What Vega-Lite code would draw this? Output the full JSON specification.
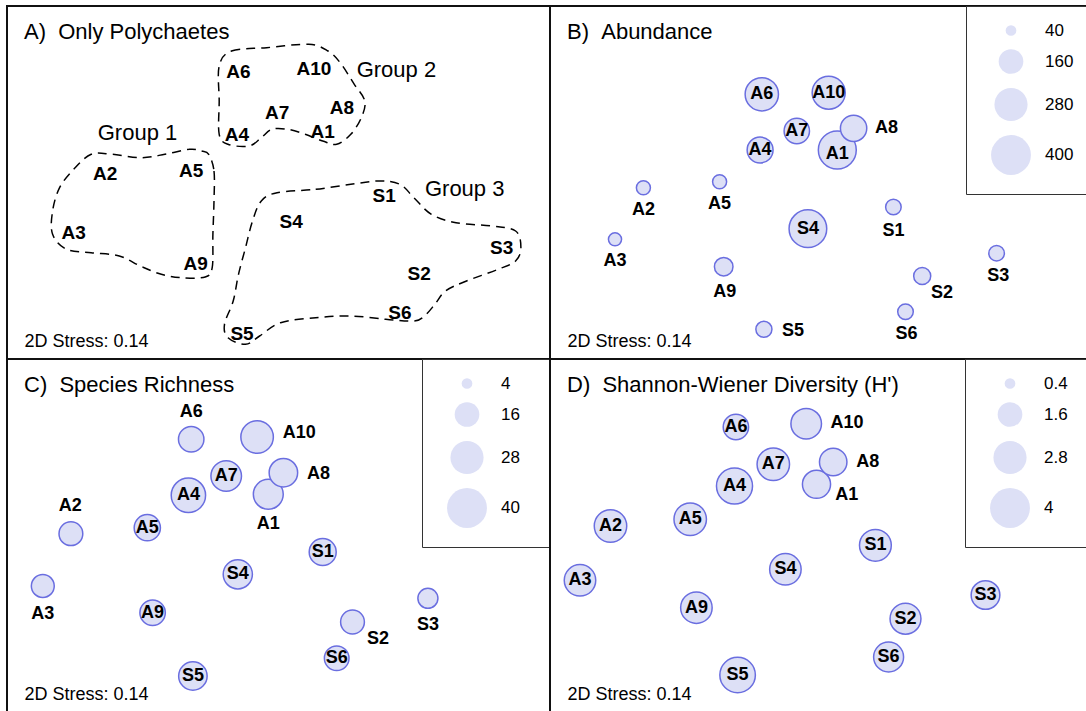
{
  "$schema": "https://vega.github.io/schema/vega-lite/v6.json",
  "padding": {"left": 6, "top": 4, "right": 0, "bottom": 0},
  "spacing": 0,
  "bounds": "flush",
  "columns": 2,
  "resolve": {"scale": {"x": "independent", "y": "independent", "size": "independent"}, "legend": {"size": "independent"}},
  "datasets": {
    "hulls": [
      {"g": 2, "o": 1, "x": -0.593, "y": 1.165}, {"g": 2, "o": 2, "x": -0.47, "y": 1.315}, {"g": 2, "o": 3, "x": -0.119, "y": 1.348}, {"g": 2, "o": 4, "x": 0.302, "y": 1.382}, {"g": 2, "o": 5, "x": 0.495, "y": 1.315}, {"g": 2, "o": 6, "x": 0.617, "y": 1.198}, {"g": 2, "o": 7, "x": 0.758, "y": 0.982}, {"g": 2, "o": 8, "x": 0.863, "y": 0.815}, {"g": 2, "o": 9, "x": 0.828, "y": 0.648}, {"g": 2, "o": 10, "x": 0.723, "y": 0.482}, {"g": 2, "o": 11, "x": 0.582, "y": 0.382}, {"g": 2, "o": 12, "x": 0.442, "y": 0.415}, {"g": 2, "o": 13, "x": 0.267, "y": 0.482}, {"g": 2, "o": 14, "x": 0.091, "y": 0.532}, {"g": 2, "o": 15, "x": -0.067, "y": 0.532}, {"g": 2, "o": 16, "x": -0.172, "y": 0.448}, {"g": 2, "o": 17, "x": -0.295, "y": 0.365}, {"g": 2, "o": 18, "x": -0.505, "y": 0.382}, {"g": 2, "o": 19, "x": -0.593, "y": 0.482}, {"g": 2, "o": 20, "x": -0.593, "y": 0.815},
      {"g": 1, "o": 1, "x": -0.698, "y": 0.282}, {"g": 1, "o": 2, "x": -0.645, "y": 0.115}, {"g": 1, "o": 3, "x": -0.645, "y": -0.185}, {"g": 1, "o": 4, "x": -0.656, "y": -0.518}, {"g": 1, "o": 5, "x": -0.663, "y": -0.852}, {"g": 1, "o": 6, "x": -0.733, "y": -0.945}, {"g": 1, "o": 7, "x": -0.961, "y": -0.952}, {"g": 1, "o": 8, "x": -1.172, "y": -0.918}, {"g": 1, "o": 9, "x": -1.382, "y": -0.835}, {"g": 1, "o": 10, "x": -1.592, "y": -0.735}, {"g": 1, "o": 11, "x": -1.873, "y": -0.702}, {"g": 1, "o": 12, "x": -2.119, "y": -0.668}, {"g": 1, "o": 13, "x": -2.259, "y": -0.518}, {"g": 1, "o": 14, "x": -2.259, "y": -0.285}, {"g": 1, "o": 15, "x": -2.189, "y": -0.052}, {"g": 1, "o": 16, "x": -2.048, "y": 0.132}, {"g": 1, "o": 17, "x": -1.873, "y": 0.282}, {"g": 1, "o": 18, "x": -1.663, "y": 0.282}, {"g": 1, "o": 19, "x": -1.382, "y": 0.248}, {"g": 1, "o": 20, "x": -1.136, "y": 0.282}, {"g": 1, "o": 21, "x": -0.891, "y": 0.332}, {"g": 1, "o": 22, "x": -0.768, "y": 0.315},
      {"g": 3, "o": 1, "x": -0.014, "y": -0.102}, {"g": 3, "o": 2, "x": 0.372, "y": -0.068}, {"g": 3, "o": 3, "x": 0.723, "y": -0.018}, {"g": 3, "o": 4, "x": 1.003, "y": 0.015}, {"g": 3, "o": 5, "x": 1.214, "y": -0.018}, {"g": 3, "o": 6, "x": 1.354, "y": -0.152}, {"g": 3, "o": 7, "x": 1.529, "y": -0.318}, {"g": 3, "o": 8, "x": 1.775, "y": -0.402}, {"g": 3, "o": 9, "x": 2.125, "y": -0.435}, {"g": 3, "o": 10, "x": 2.371, "y": -0.485}, {"g": 3, "o": 11, "x": 2.424, "y": -0.652}, {"g": 3, "o": 12, "x": 2.371, "y": -0.785}, {"g": 3, "o": 13, "x": 2.196, "y": -0.868}, {"g": 3, "o": 14, "x": 1.88, "y": -0.985}, {"g": 3, "o": 15, "x": 1.67, "y": -1.085}, {"g": 3, "o": 16, "x": 1.564, "y": -1.218}, {"g": 3, "o": 17, "x": 1.459, "y": -1.335}, {"g": 3, "o": 18, "x": 1.354, "y": -1.385}, {"g": 3, "o": 19, "x": 1.073, "y": -1.368}, {"g": 3, "o": 20, "x": 0.723, "y": -1.335}, {"g": 3, "o": 21, "x": 0.372, "y": -1.352}, {"g": 3, "o": 22, "x": 0.021, "y": -1.402}, {"g": 3, "o": 23, "x": -0.189, "y": -1.535}, {"g": 3, "o": 24, "x": -0.33, "y": -1.618}, {"g": 3, "o": 25, "x": -0.505, "y": -1.552}, {"g": 3, "o": 26, "x": -0.54, "y": -1.418}, {"g": 3, "o": 27, "x": -0.453, "y": -1.185}, {"g": 3, "o": 28, "x": -0.4, "y": -0.918}, {"g": 3, "o": 29, "x": -0.33, "y": -0.652}, {"g": 3, "o": 30, "x": -0.26, "y": -0.385}, {"g": 3, "o": 31, "x": -0.172, "y": -0.185}
    ],
    "labA": [
      {"s": "A6", "x": -0.4, "y": 1.108}, {"s": "A10", "x": 0.354, "y": 1.138}, {"s": "A7", "x": -0.014, "y": 0.698}, {"s": "A8", "x": 0.635, "y": 0.742}, {"s": "A4", "x": -0.417, "y": 0.475}, {"s": "A1", "x": 0.442, "y": 0.508}, {"s": "A2", "x": -1.733, "y": 0.082}, {"s": "A5", "x": -0.873, "y": 0.115}, {"s": "A3", "x": -2.048, "y": -0.502}, {"s": "A9", "x": -0.828, "y": -0.818}, {"s": "S1", "x": 1.056, "y": -0.135}, {"s": "S4", "x": 0.126, "y": -0.392}, {"s": "S3", "x": 2.231, "y": -0.652}, {"s": "S2", "x": 1.406, "y": -0.918}, {"s": "S6", "x": 1.214, "y": -1.302}, {"s": "S5", "x": -0.365, "y": -1.518}
    ],
    "grpA": [
      {"t": "Group 1", "x": -1.41, "y": 0.498}, {"t": "Group 2", "x": 1.179, "y": 1.122}, {"t": "Group 3", "x": 1.862, "y": -0.068}
    ],
    "ptsB": [
      {"s": "A6", "x": -0.597, "y": 0.882, "v": 283, "lx": -0.597, "ly": 0.882},
      {"s": "A10", "x": 0.072, "y": 0.898, "v": 279, "lx": 0.072, "ly": 0.898},
      {"s": "A7", "x": -0.247, "y": 0.515, "v": 169, "lx": -0.247, "ly": 0.515},
      {"s": "A4", "x": -0.614, "y": 0.325, "v": 176, "lx": -0.614, "ly": 0.325},
      {"s": "A1", "x": 0.158, "y": 0.325, "v": 363, "lx": 0.158, "ly": 0.288},
      {"s": "A8", "x": 0.321, "y": 0.542, "v": 181, "lx": 0.65, "ly": 0.548},
      {"s": "A2", "x": -1.781, "y": -0.052, "v": 60, "lx": -1.781, "ly": -0.275},
      {"s": "A5", "x": -1.019, "y": 0.008, "v": 60, "lx": -1.019, "ly": -0.218},
      {"s": "S1", "x": 0.719, "y": -0.245, "v": 71, "lx": 0.719, "ly": -0.485},
      {"s": "S4", "x": -0.136, "y": -0.462, "v": 358, "lx": -0.136, "ly": -0.462},
      {"s": "A3", "x": -2.065, "y": -0.568, "v": 54, "lx": -2.065, "ly": -0.785},
      {"s": "S3", "x": 1.751, "y": -0.708, "v": 71, "lx": 1.768, "ly": -0.935},
      {"s": "A9", "x": -0.978, "y": -0.842, "v": 96, "lx": -0.967, "ly": -1.095},
      {"s": "S2", "x": 1.007, "y": -0.935, "v": 83, "lx": 1.204, "ly": -1.108},
      {"s": "S6", "x": 0.84, "y": -1.292, "v": 71, "lx": 0.851, "ly": -1.518},
      {"s": "S5", "x": -0.576, "y": -1.468, "v": 75, "lx": -0.285, "ly": -1.485}
    ],
    "ptsC": [
      {"s": "A6", "x": -0.873, "y": 0.962, "v": 17, "lx": -0.873, "ly": 1.235},
      {"s": "A10", "x": -0.214, "y": 0.985, "v": 27, "lx": 0.207, "ly": 1.022},
      {"s": "A7", "x": -0.523, "y": 0.595, "v": 24, "lx": -0.523, "ly": 0.595},
      {"s": "A4", "x": -0.901, "y": 0.402, "v": 30, "lx": -0.901, "ly": 0.402},
      {"s": "A1", "x": -0.102, "y": 0.412, "v": 23, "lx": -0.102, "ly": 0.112},
      {"s": "A8", "x": 0.049, "y": 0.628, "v": 21, "lx": 0.4, "ly": 0.612},
      {"s": "A2", "x": -2.076, "y": 0.018, "v": 15, "lx": -2.083, "ly": 0.295},
      {"s": "A5", "x": -1.312, "y": 0.078, "v": 18, "lx": -1.312, "ly": 0.078},
      {"s": "S1", "x": 0.442, "y": -0.165, "v": 19, "lx": 0.442, "ly": -0.165},
      {"s": "S4", "x": -0.407, "y": -0.388, "v": 22, "lx": -0.407, "ly": -0.388},
      {"s": "A3", "x": -2.357, "y": -0.505, "v": 14, "lx": -2.357, "ly": -0.788},
      {"s": "S3", "x": 1.494, "y": -0.628, "v": 11, "lx": 1.494, "ly": -0.895},
      {"s": "A9", "x": -1.259, "y": -0.772, "v": 17, "lx": -1.259, "ly": -0.772},
      {"s": "S2", "x": 0.74, "y": -0.865, "v": 15, "lx": 0.996, "ly": -1.038},
      {"s": "S6", "x": 0.582, "y": -1.228, "v": 16, "lx": 0.582, "ly": -1.228},
      {"s": "S5", "x": -0.856, "y": -1.405, "v": 21, "lx": -0.856, "ly": -1.405}
    ],
    "ptsD": [
      {"s": "A6", "x": -0.856, "y": 1.085, "v": 1.69, "lx": -0.856, "ly": 1.085},
      {"s": "A10", "x": -0.153, "y": 1.118, "v": 2.4, "lx": 0.255, "ly": 1.128},
      {"s": "A7", "x": -0.482, "y": 0.712, "v": 2.69, "lx": -0.482, "ly": 0.712},
      {"s": "A4", "x": -0.87, "y": 0.495, "v": 3.29, "lx": -0.87, "ly": 0.495},
      {"s": "A1", "x": -0.05, "y": 0.512, "v": 2.05, "lx": 0.252, "ly": 0.402},
      {"s": "A8", "x": 0.117, "y": 0.735, "v": 1.96, "lx": 0.463, "ly": 0.735},
      {"s": "A2", "x": -2.11, "y": 0.095, "v": 2.69, "lx": -2.11, "ly": 0.095},
      {"s": "A5", "x": -1.313, "y": 0.162, "v": 2.69, "lx": -1.313, "ly": 0.162},
      {"s": "S1", "x": 0.539, "y": -0.098, "v": 2.59, "lx": 0.539, "ly": -0.098},
      {"s": "S4", "x": -0.361, "y": -0.338, "v": 2.54, "lx": -0.361, "ly": -0.338},
      {"s": "A3", "x": -2.415, "y": -0.448, "v": 2.54, "lx": -2.415, "ly": -0.448},
      {"s": "S3", "x": 1.64, "y": -0.595, "v": 2.13, "lx": 1.64, "ly": -0.595},
      {"s": "A9", "x": -1.251, "y": -0.722, "v": 2.54, "lx": -1.251, "ly": -0.722},
      {"s": "S2", "x": 0.84, "y": -0.832, "v": 2.45, "lx": 0.84, "ly": -0.832},
      {"s": "S6", "x": 0.671, "y": -1.215, "v": 2.31, "lx": 0.671, "ly": -1.215},
      {"s": "S5", "x": -0.839, "y": -1.395, "v": 3.2, "lx": -0.839, "ly": -1.395}
    ]
  },
  "concat": [
    {
      "width": 543, "height": 353,
      "title": {"text": "A)\u00a0\u00a0Only Polychaetes"},
      "layer": [
        {
          "data": {"name": "hulls"},
          "mark": {"type": "line", "interpolate": "cardinal-closed", "stroke": "#000", "strokeWidth": 1.5, "strokeDash": [9, 6]},
          "encoding": {
            "x": {"field": "x", "type": "quantitative", "scale": {"domain": [-2.715, 2.715], "nice": false, "zero": false}, "title": "2D Stress: 0.14"},
            "y": {"field": "y", "type": "quantitative", "scale": {"domain": [-1.765, 1.765], "nice": false, "zero": false}, "axis": null},
            "detail": {"field": "g", "type": "nominal"},
            "order": {"field": "o", "type": "quantitative"}
          }
        },
        {
          "data": {"name": "labA"},
          "mark": {"type": "text", "fontWeight": "bold", "fontSize": 19},
          "encoding": {
            "x": {"field": "x", "type": "quantitative", "title": "2D Stress: 0.14"},
            "y": {"field": "y", "type": "quantitative", "axis": null},
            "text": {"field": "s"}
          }
        },
        {
          "data": {"name": "grpA"},
          "mark": {"type": "text", "fontWeight": "normal", "fontSize": 22},
          "encoding": {
            "x": {"field": "x", "type": "quantitative", "title": "2D Stress: 0.14"},
            "y": {"field": "y", "type": "quantitative", "axis": null},
            "text": {"field": "t"}
          }
        }
      ]
    },
    {
      "width": 543, "height": 353,
      "title": {"text": "B)\u00a0\u00a0Abundance"},
      "data": {"name": "ptsB"},
      "layer": [
        {
          "mark": {"type": "point", "shape": "circle", "filled": false},
          "encoding": {
            "x": {"field": "x", "type": "quantitative", "scale": {"domain": [-2.715, 2.715], "nice": false, "zero": false}, "title": "2D Stress: 0.14"},
            "y": {"field": "y", "type": "quantitative", "scale": {"domain": [-1.765, 1.765], "nice": false, "zero": false}, "axis": null},
            "fill": {"value": "#dde0f6"},
            "stroke": {"value": "#6a6ee0"},
            "strokeWidth": {"value": 1.5},
            "opacity": {"value": 1},
            "size": {"field": "v", "type": "quantitative", "scale": {"domain": [40, 400], "range": [115, 1590], "zero": false}, "legend": {"values": [40, 160, 280, 400], "title": ".", "titlePadding": 1, "labelExpr": "datum.value + ''", "encode": {"symbols": {"fill": {"value": "#dde0f6"}, "stroke": {"value": "#6a6ee0"}, "strokeWidth": {"value": 1.5}, "opacity": {"value": 1}}}}}
          }
        },
        {
          "mark": {"type": "text", "fontWeight": "bold", "fontSize": 18},
          "encoding": {
            "x": {"field": "lx", "type": "quantitative", "title": "2D Stress: 0.14"},
            "y": {"field": "ly", "type": "quantitative", "axis": null},
            "text": {"field": "s"}
          }
        }
      ]
    },
    {
      "width": 543, "height": 353,
      "title": {"text": "C)\u00a0\u00a0Species Richness"},
      "data": {"name": "ptsC"},
      "layer": [
        {
          "mark": {"type": "point", "shape": "circle", "filled": false},
          "encoding": {
            "x": {"field": "x", "type": "quantitative", "scale": {"domain": [-2.715, 2.715], "nice": false, "zero": false}, "title": "2D Stress: 0.14"},
            "y": {"field": "y", "type": "quantitative", "scale": {"domain": [-1.765, 1.765], "nice": false, "zero": false}, "axis": null},
            "fill": {"value": "#dde0f6"},
            "stroke": {"value": "#6a6ee0"},
            "strokeWidth": {"value": 1.5},
            "opacity": {"value": 1},
            "size": {"field": "v", "type": "quantitative", "scale": {"domain": [4, 40], "range": [115, 1590], "zero": false}, "legend": {"values": [4, 16, 28, 40], "title": ".", "titlePadding": 11, "labelExpr": "datum.value + ''", "encode": {"symbols": {"fill": {"value": "#dde0f6"}, "stroke": {"value": "#6a6ee0"}, "strokeWidth": {"value": 1.5}, "opacity": {"value": 1}}}}}
          }
        },
        {
          "mark": {"type": "text", "fontWeight": "bold", "fontSize": 18},
          "encoding": {
            "x": {"field": "lx", "type": "quantitative", "title": "2D Stress: 0.14"},
            "y": {"field": "ly", "type": "quantitative", "axis": null},
            "text": {"field": "s"}
          }
        }
      ]
    },
    {
      "width": 543, "height": 353,
      "title": {"text": "D)\u00a0\u00a0Shannon-Wiener Diversity (H')"},
      "data": {"name": "ptsD"},
      "layer": [
        {
          "mark": {"type": "point", "shape": "circle", "filled": false},
          "encoding": {
            "x": {"field": "x", "type": "quantitative", "scale": {"domain": [-2.715, 2.715], "nice": false, "zero": false}, "title": "2D Stress: 0.14"},
            "y": {"field": "y", "type": "quantitative", "scale": {"domain": [-1.765, 1.765], "nice": false, "zero": false}, "axis": null},
            "fill": {"value": "#dde0f6"},
            "stroke": {"value": "#6a6ee0"},
            "strokeWidth": {"value": 1.5},
            "opacity": {"value": 1},
            "size": {"field": "v", "type": "quantitative", "scale": {"domain": [0.4, 4], "range": [115, 1590], "zero": false}, "legend": {"values": [0.4, 1.6, 2.8, 4], "title": ".", "titlePadding": 6, "labelExpr": "datum.value + ''", "encode": {"symbols": {"fill": {"value": "#dde0f6"}, "stroke": {"value": "#6a6ee0"}, "strokeWidth": {"value": 1.5}, "opacity": {"value": 1}}}}}
          }
        },
        {
          "mark": {"type": "text", "fontWeight": "bold", "fontSize": 18},
          "encoding": {
            "x": {"field": "lx", "type": "quantitative", "title": "2D Stress: 0.14"},
            "y": {"field": "ly", "type": "quantitative", "axis": null},
            "text": {"field": "s"}
          }
        }
      ]
    }
  ],
  "config": {
    "font": "Liberation Sans",
    "view": {"stroke": "#111", "strokeWidth": 2},
    "text": {"font": "Liberation Sans", "color": "#000", "align": "center", "baseline": "middle"},
    "title": {"anchor": "start", "frame": "group", "fontSize": 22, "fontWeight": "normal", "font": "Liberation Sans", "color": "#000", "offset": -38, "dx": 17, "baseline": "alphabetic"},
    "axisX": {"orient": "bottom", "domain": false, "ticks": false, "labels": false, "grid": false, "titleFontSize": 18, "titleFontWeight": "normal", "titleFont": "Liberation Sans", "titleColor": "#000", "titleAnchor": "start", "titleAlign": "left", "titleBaseline": "alphabetic", "titleX": 17, "titleY": -13},
    "legend": {"orient": "top-right", "offset": 0, "padding": 16, "strokeColor": "#333", "fillColor": "#fff", "labelFontSize": 17, "labelFont": "Liberation Sans", "labelColor": "#000", "labelOffset": 13, "symbolOffset": 8, "rowPadding": 7, "symbolType": "circle", "symbolFillColor": "#dde0f6", "symbolStrokeColor": "#6a6ee0", "symbolStrokeWidth": 1.5, "symbolOpacity": 1, "titleOrient": "right", "titleFontSize": 10, "titleOpacity": 0, "titleColor": "#fff"}
  }
}
